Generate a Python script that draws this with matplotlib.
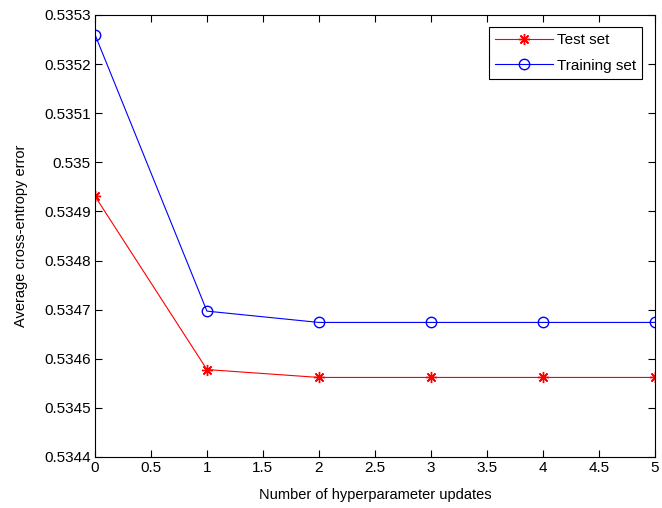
import matplotlib
matplotlib.use("Agg")
import matplotlib.pyplot as plt

# data
updates = [0, 1, 2, 3, 4, 5]
test_err = [0.534931, 0.534578, 0.534562, 0.534562, 0.534562, 0.534562]
train_err = [0.535260, 0.534697, 0.534674, 0.534674, 0.534674, 0.534674]

plt.rcParams['font.family'] = ['Liberation Sans', 'DejaVu Sans']
plt.rcParams['font.size'] = 11

fig = plt.figure(figsize=(6.62, 5.08), dpi=100)
ax = fig.add_axes([0.1435, 0.1004, 0.8455, 0.8701])

# MATLAB-like '*' marker: 8-armed asterisk
ax.plot(updates, test_err, color='red', marker=(8, 2, 0), markersize=8,
        linewidth=0.8, label='Test set')
ax.plot(updates, train_err, color='blue', marker='o', markersize=7.5,
        linewidth=0.8, markerfacecolor='none', label='Training set')

ax.set_xlim(0, 5)
ax.set_ylim(0.5344, 0.5353)
ax.set_xticks([0, 0.5, 1, 1.5, 2, 2.5, 3, 3.5, 4, 4.5, 5])
ax.set_xticklabels(['0', '0.5', '1', '1.5', '2', '2.5', '3', '3.5', '4', '4.5', '5'])
yt = [0.5344, 0.5345, 0.5346, 0.5347, 0.5348, 0.5349, 0.535, 0.5351, 0.5352, 0.5353]
ax.set_yticks(yt)
ax.set_yticklabels([('%.4f' % v).rstrip('0') for v in yt])
ax.tick_params(direction='in', top=True, right=True, length=5, width=0.8, pad=3)
for s in ax.spines.values():
    s.set_linewidth(0.8)

ax.set_xlabel('Number of hyperparameter updates', fontsize=10.5, labelpad=9)
ax.set_ylabel('Average cross-entropy error', fontsize=10.5, labelpad=12)

leg = ax.legend(loc='upper right', fancybox=False, edgecolor='black',
                framealpha=1, borderaxespad=0.8, handlelength=3.8,
                handletextpad=0.3, fontsize=11, labelspacing=0.75)
leg.get_frame().set_linewidth(0.8)

fig.savefig('out.png', dpi=100)
